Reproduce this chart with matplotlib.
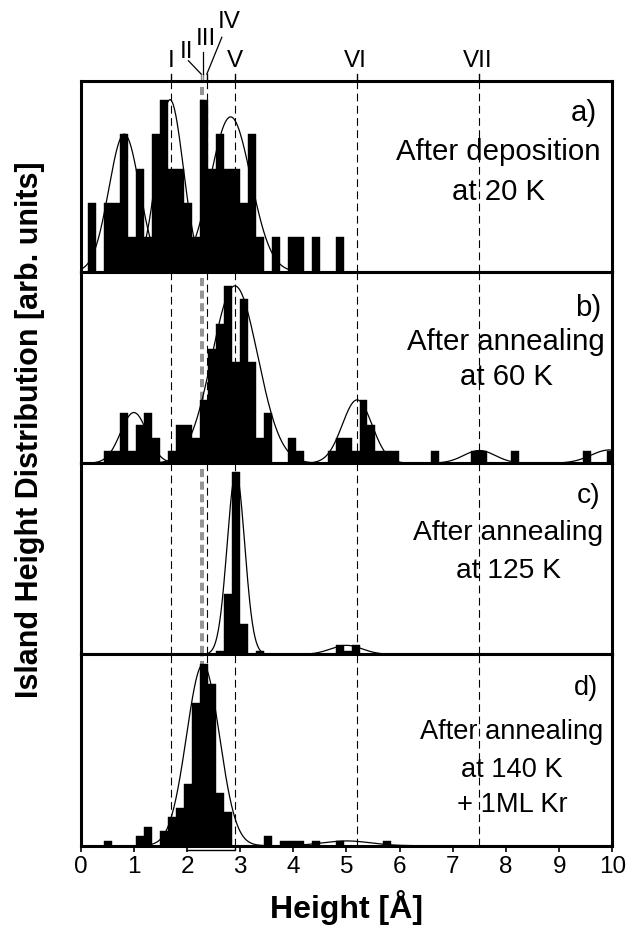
import matplotlib
matplotlib.use("Agg")
import matplotlib.pyplot as plt
from matplotlib.transforms import blended_transform_factory
import numpy as np

plt.rcParams['font.family'] = ['Liberation Sans', 'DejaVu Sans']

# DATA
# histogram bins (Angstrom), counts per bin
bin_start = 0.145
bin_width = 0.15

counts_a = [2, 0, 2, 2, 4, 1, 3, 1, 4, 5,
            3, 3, 2, 1, 5, 3, 4, 3, 3, 2,
            4, 1, 0, 1, 0, 1, 1, 0, 1, 0,
            0, 1]
counts_b = [0, 0, 1, 1, 4, 1, 3, 4, 2, 0,
            1, 3, 3, 2, 5, 9, 11, 14, 8, 13,
            8, 2, 4, 0, 0, 2, 1, 0, 0, 0,
            1, 2, 2, 1, 5, 3, 1, 1, 1, 0,
            0, 0, 0, 1, 0, 0, 0, 0, 1, 1,
            0, 0, 0, 1, 0, 0, 0, 0, 0, 0,
            0, 0, 1, 0, 0, 1]
counts_c = [0, 0, 0, 0, 0, 0, 0, 0, 0, 0,
            0, 0, 0, 0, 0, 0, 1, 20, 60, 10,
            0, 1, 0, 0, 0, 0, 0, 0, 0, 0,
            0, 3, 1, 3]
counts_d = [0, 0, 1, 0, 0, 0, 2, 4, 0, 3,
            6, 8, 13, 30, 38, 34, 11, 7, 0, 0,
            0, 0, 2, 0, 1, 1, 1, 0, 1, 0,
            0, 1, 0, 0, 0, 0, 0, 1]

# gaussian fits: centers, amplitudes, widths
fit_c_a = [0.82, 1.68, 2.82]
fit_A_a = [4.0, 5.0, 4.5]
fit_s_a = [0.29, 0.25, 0.38]
fit_c_b = [1.0, 2.9, 5.2, 7.5, 9.95]
fit_A_b = [4.0, 14.0, 5.0, 1.0, 1.05]
fit_s_b = [0.25, 0.43, 0.28, 0.3, 0.35]
fit_c_c = [2.92, 5.0]
fit_A_c = [60.0, 3.0]
fit_s_c = [0.165, 0.3]
fit_c_d = [2.3, 5.0]
fit_A_d = [38.0, 1.0]
fit_s_d = [0.31, 0.45]

# reference heights
ref_labels = ['I', 'II', 'III', 'IV', 'V', 'VI', 'VII']
ref_pos = [1.70, 2.27, 2.31, 2.37, 2.90, 5.20, 7.50]
ref_grey = [False, True, True, False, False, False, False]

panel_letters = ['a)', 'b)', 'c)', 'd)']
panel_notes = [['After deposition', 'at 20 K'],
               ['After annealing', 'at 60 K'],
               ['After annealing', 'at 125 K'],
               ['After annealing', 'at 140 K', '+ 1ML Kr']]

xticks = [0, 1, 2, 3, 4, 5, 6, 7, 8, 9, 10]

# LAYOUT (pixels of the 632x937 picture)
W, H = 632.0, 937.0
left, right = 80.7, 612.3
top0 = 81.7
ph = 191.25
ymax = [5.55, 15.1, 63.0, 40.1]
counts = [counts_a, counts_b, counts_c, counts_d]
fits = [(fit_c_a, fit_A_a, fit_s_a), (fit_c_b, fit_A_b, fit_s_b),
        (fit_c_c, fit_A_c, fit_s_c), (fit_c_d, fit_A_d, fit_s_d)]

# letter x (right edge), note centre x, baselines (px)
letter_x = [597, 601.7, 600, 598]
note_x = [498, 506, 508.5, 512]
letter_y = [121, 316, 503, 695]
note_y = [[160, 200], [350, 385], [540, 578], [739, 777, 812]]
note_fs = [21.2, 21.2, 20.3, 19.6]

def fy(y):
    return 1 - y / H

fig = plt.figure(figsize=(6.32, 9.37), dpi=100)
xs = np.linspace(0, 10, 800)
axes = []
for i in range(4):
    top = top0 + i * ph
    ax = fig.add_axes([left / W, 1 - (top + ph) / H, (right - left) / W, ph / H])
    axes.append(ax)
    edges = bin_start + bin_width * np.arange(len(counts[i]))
    ax.bar(edges, counts[i], width=bin_width, align='edge', color='black',
           edgecolor='black', linewidth=0.3, zorder=3)
    for c, a, s in zip(*fits[i]):
        ax.plot(xs, a * np.exp(-(xs - c) ** 2 / (2 * s ** 2)), color='black', lw=0.9, zorder=4)
    for x, g in zip(ref_pos, ref_grey):
        if g:
            ax.axvline(x, color='#8a8a8a', lw=1.3, ls=(0, (4.5, 2.5)), zorder=1)
        else:
            ax.axvline(x, color='black', lw=0.8, ls=(0, (7, 4)), zorder=1)
    ax.set_xlim(0, 10)
    ax.set_ylim(0, ymax[i])
    ax.set_yticks([])
    for sp in ax.spines.values():
        sp.set_linewidth(2.2)
        sp.set_zorder(5)
    if i < 3:
        ax.set_xticks([])
    else:
        ax.set_xticks(xticks)
        ax.tick_params(axis='x', direction='out', length=4.5, width=1.2, pad=2, labelsize=17.5)
    # panel texts
    fig.text(letter_x[i] / W, fy(letter_y[i]), panel_letters[i], ha='right', va='baseline',
             fontsize=note_fs[i])
    for line, yb in zip(panel_notes[i], note_y[i]):
        fig.text(note_x[i] / W, fy(yb), line, ha='center', va='baseline', fontsize=note_fs[i])

# labels of the reference heights above panel a
ax_a = axes[0]
tr = blended_transform_factory(ax_a.transData, ax_a.transAxes)
for x, g in zip(ref_pos, ref_grey):
    ax_a.plot([x, x], [1.0, 1.035], transform=tr, clip_on=False,
              color='#8a8a8a' if g else 'black', lw=1.0, zorder=1)
lab_x = [1.71, 1.99, 2.35, 2.80, 2.91, 5.175, 7.47]
lab_y = [1.077, 1.1265, 1.192, 1.281, 1.077, 1.077, 1.077]
for t, x, y in zip(ref_labels, lab_x, lab_y):
    ax_a.text(x, y, t, transform=tr, ha='center', va='baseline', fontsize=17.5, clip_on=False)
# leader lines for II, III, IV
ax_a.plot([2.026, 2.265], [1.1046, 1.035], transform=tr, clip_on=False, color='black', lw=0.9)
ax_a.plot([2.31, 2.31], [1.148, 1.035], transform=tr, clip_on=False, color='black', lw=0.9)
ax_a.plot([2.655, 2.373], [1.227, 1.035], transform=tr, clip_on=False, color='black', lw=0.9)

# bracket under the bottom axis
ax_d = axes[3]
trd = blended_transform_factory(ax_d.transData, ax_d.transAxes)
ax_d.plot([2.0, 2.9, 2.9], [-0.021, -0.021, 0.0], transform=trd, clip_on=False,
          color='black', lw=1.0)

fig.text(30.5 / W, fy(430), 'Island Height Distribution [arb. units]', rotation=90,
         ha='center', va='center', fontsize=22, fontweight='bold')
fig.text(346 / W, fy(918), 'Height [Å]', ha='center', va='baseline',
         fontsize=23, fontweight='bold')

fig.savefig('out.png', dpi=100)
